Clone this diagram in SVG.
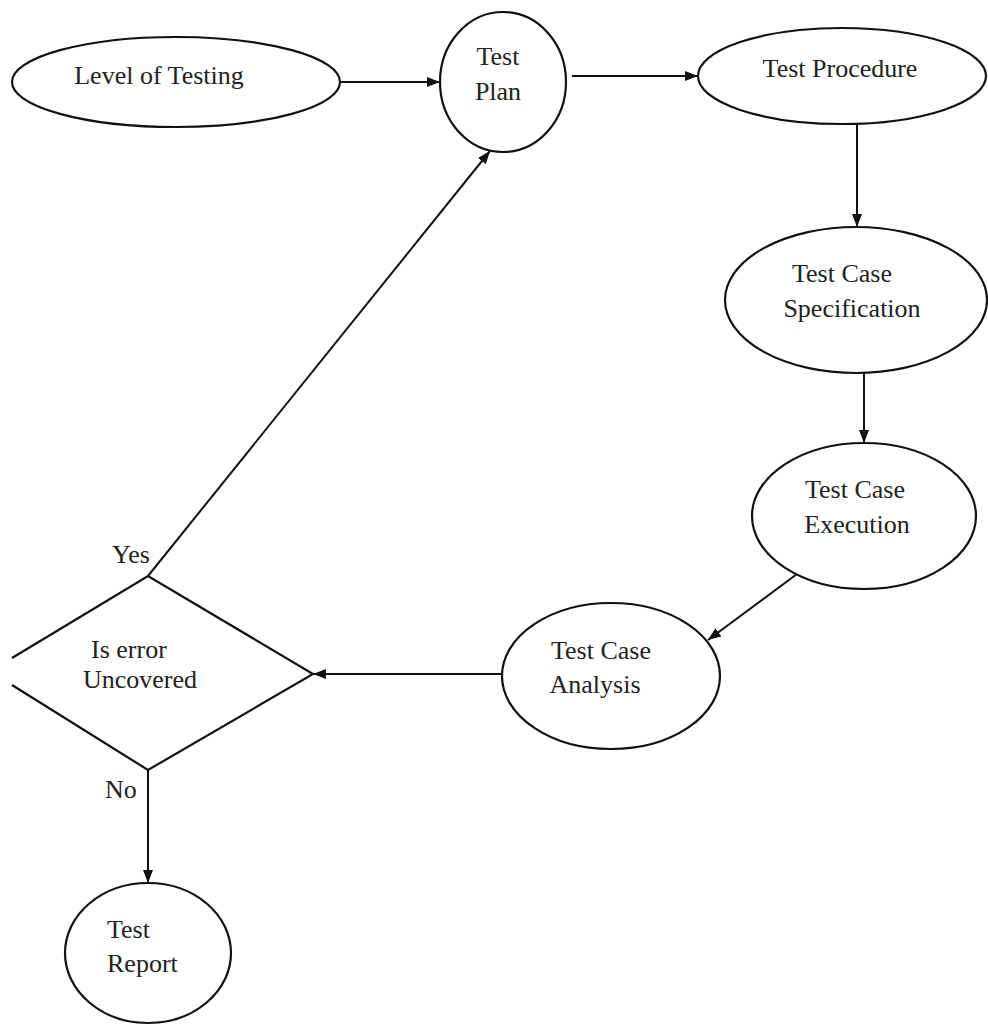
<svg xmlns="http://www.w3.org/2000/svg" width="988" height="1027" viewBox="0 0 988 1027">
<style>
.shape{fill:none;stroke:#111;stroke-width:2.2}
.conn{fill:none;stroke:#111;stroke-width:2}
text{font-family:"Liberation Serif","Times New Roman",serif;font-size:26px;fill:#222}
.m{text-anchor:middle}
</style>
<defs>
<marker id="arr" markerUnits="userSpaceOnUse" markerWidth="14" markerHeight="10" refX="13" refY="5" orient="auto">
<path d="M0,0 L13,5 L0,10 z" fill="#111"/>
</marker>
</defs>
<rect width="988" height="1027" fill="#fff"/>
<g id="level-of-testing">
<ellipse class="shape" cx="176" cy="82" rx="164" ry="45"/>
<text x="159" y="84" class="m">Level of Testing</text>
</g>
<g id="test-plan">
<ellipse class="shape" cx="503" cy="82" rx="63" ry="70"/>
<text x="498" y="65" class="m">Test</text>
<text x="498" y="100" class="m">Plan</text>
</g>
<g id="test-procedure">
<ellipse class="shape" cx="842" cy="76" rx="144" ry="48"/>
<text x="840" y="77" class="m">Test Procedure</text>
</g>
<g id="test-case-specification">
<ellipse class="shape" cx="856" cy="300" rx="131" ry="73"/>
<text x="842" y="282" class="m">Test Case</text>
<text x="852" y="317" class="m">Specification</text>
</g>
<g id="test-case-execution">
<ellipse class="shape" cx="864" cy="516" rx="112" ry="73"/>
<text x="855" y="498" class="m">Test Case</text>
<text x="857" y="533" class="m">Execution</text>
</g>
<g id="test-case-analysis">
<ellipse class="shape" cx="611" cy="676" rx="109" ry="73"/>
<text x="601" y="659" class="m">Test Case</text>
<text x="595" y="693" class="m">Analysis</text>
</g>
<g id="is-error-uncovered">
<polyline class="shape" points="12,658 148,576 313,674 148,770 12,685"/>
<text x="91" y="658">Is error</text>
<text x="83" y="688">Uncovered</text>
</g>
<g id="test-report">
<ellipse class="shape" cx="148" cy="953" rx="83" ry="70"/>
<text x="107" y="938">Test</text>
<text x="107" y="972">Report</text>
</g>
<g id="connectors">
<line class="conn" x1="340" y1="82" x2="440" y2="82" marker-end="url(#arr)"/>
<line class="conn" x1="572" y1="76" x2="698" y2="76" marker-end="url(#arr)"/>
<line class="conn" x1="857" y1="124" x2="857" y2="227" marker-end="url(#arr)"/>
<line class="conn" x1="864" y1="373" x2="864" y2="443" marker-end="url(#arr)"/>
<line class="conn" x1="797" y1="574" x2="708" y2="640" marker-end="url(#arr)"/>
<line class="conn" x1="502" y1="674" x2="313" y2="674" marker-end="url(#arr)"/>
<line class="conn" x1="148" y1="576" x2="490" y2="151" marker-end="url(#arr)"/>
<line class="conn" x1="148" y1="770" x2="148" y2="883" marker-end="url(#arr)"/>
<text x="112" y="563">Yes</text>
<text x="105" y="798">No</text>
</g>
</svg>
